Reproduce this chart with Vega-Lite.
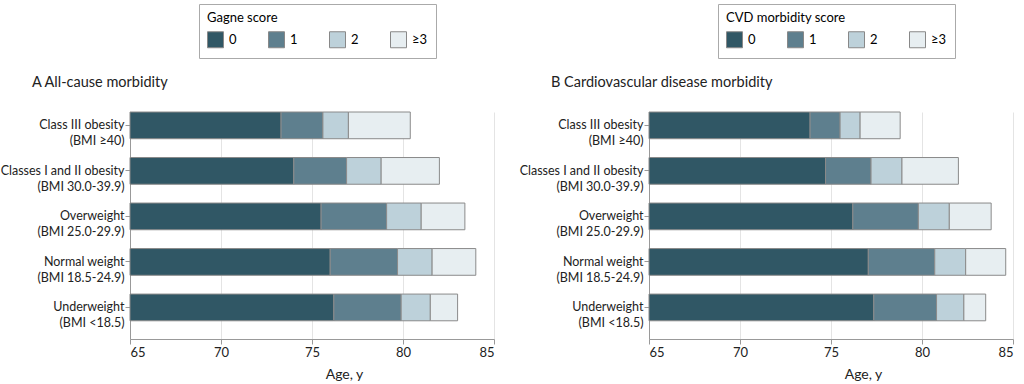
{
  "$schema": "https://vega.github.io/schema/vega-lite/v6.json",
  "padding": {"left": 0, "top": 3, "right": 0, "bottom": 0},
  "config": {
    "font": "Lato",
    "view": {"stroke": null},
    "axis": {"labelColor": "#222", "titleColor": "#222", "domainColor": "#999", "tickColor": "#999"},
    "title": {"color": "#222"}
  },
  "datasets": {
    "allcause": [
      {"bmi": "Class III obesity|(BMI ≥40)", "score": "0", "start": 65, "end": 73.3},
      {"bmi": "Class III obesity|(BMI ≥40)", "score": "1", "start": 73.3, "end": 75.6},
      {"bmi": "Class III obesity|(BMI ≥40)", "score": "2", "start": 75.6, "end": 77.0},
      {"bmi": "Class III obesity|(BMI ≥40)", "score": "≥3", "start": 77.0, "end": 80.4},
      {"bmi": "Classes I and II obesity|(BMI 30.0-39.9)", "score": "0", "start": 65, "end": 74.0},
      {"bmi": "Classes I and II obesity|(BMI 30.0-39.9)", "score": "1", "start": 74.0, "end": 76.9},
      {"bmi": "Classes I and II obesity|(BMI 30.0-39.9)", "score": "2", "start": 76.9, "end": 78.8},
      {"bmi": "Classes I and II obesity|(BMI 30.0-39.9)", "score": "≥3", "start": 78.8, "end": 82.0},
      {"bmi": "Overweight|(BMI 25.0-29.9)", "score": "0", "start": 65, "end": 75.5},
      {"bmi": "Overweight|(BMI 25.0-29.9)", "score": "1", "start": 75.5, "end": 79.1},
      {"bmi": "Overweight|(BMI 25.0-29.9)", "score": "2", "start": 79.1, "end": 81.0},
      {"bmi": "Overweight|(BMI 25.0-29.9)", "score": "≥3", "start": 81.0, "end": 83.4},
      {"bmi": "Normal weight|(BMI 18.5-24.9)", "score": "0", "start": 65, "end": 76.0},
      {"bmi": "Normal weight|(BMI 18.5-24.9)", "score": "1", "start": 76.0, "end": 79.7},
      {"bmi": "Normal weight|(BMI 18.5-24.9)", "score": "2", "start": 79.7, "end": 81.6},
      {"bmi": "Normal weight|(BMI 18.5-24.9)", "score": "≥3", "start": 81.6, "end": 84.0},
      {"bmi": "Underweight|(BMI <18.5)", "score": "0", "start": 65, "end": 76.2},
      {"bmi": "Underweight|(BMI <18.5)", "score": "1", "start": 76.2, "end": 79.9},
      {"bmi": "Underweight|(BMI <18.5)", "score": "2", "start": 79.9, "end": 81.5},
      {"bmi": "Underweight|(BMI <18.5)", "score": "≥3", "start": 81.5, "end": 83.0}
    ],
    "cvd": [
      {"bmi": "Class III obesity|(BMI ≥40)", "score": "0", "start": 65, "end": 73.85},
      {"bmi": "Class III obesity|(BMI ≥40)", "score": "1", "start": 73.85, "end": 75.5},
      {"bmi": "Class III obesity|(BMI ≥40)", "score": "2", "start": 75.5, "end": 76.6},
      {"bmi": "Class III obesity|(BMI ≥40)", "score": "≥3", "start": 76.6, "end": 78.8},
      {"bmi": "Classes I and II obesity|(BMI 30.0-39.9)", "score": "0", "start": 65, "end": 74.7},
      {"bmi": "Classes I and II obesity|(BMI 30.0-39.9)", "score": "1", "start": 74.7, "end": 77.2},
      {"bmi": "Classes I and II obesity|(BMI 30.0-39.9)", "score": "2", "start": 77.2, "end": 78.9},
      {"bmi": "Classes I and II obesity|(BMI 30.0-39.9)", "score": "≥3", "start": 78.9, "end": 82.0},
      {"bmi": "Overweight|(BMI 25.0-29.9)", "score": "0", "start": 65, "end": 76.2},
      {"bmi": "Overweight|(BMI 25.0-29.9)", "score": "1", "start": 76.2, "end": 79.8},
      {"bmi": "Overweight|(BMI 25.0-29.9)", "score": "2", "start": 79.8, "end": 81.5},
      {"bmi": "Overweight|(BMI 25.0-29.9)", "score": "≥3", "start": 81.5, "end": 83.8},
      {"bmi": "Normal weight|(BMI 18.5-24.9)", "score": "0", "start": 65, "end": 77.05},
      {"bmi": "Normal weight|(BMI 18.5-24.9)", "score": "1", "start": 77.05, "end": 80.7},
      {"bmi": "Normal weight|(BMI 18.5-24.9)", "score": "2", "start": 80.7, "end": 82.4},
      {"bmi": "Normal weight|(BMI 18.5-24.9)", "score": "≥3", "start": 82.4, "end": 84.6},
      {"bmi": "Underweight|(BMI <18.5)", "score": "0", "start": 65, "end": 77.35},
      {"bmi": "Underweight|(BMI <18.5)", "score": "1", "start": 77.35, "end": 80.8},
      {"bmi": "Underweight|(BMI <18.5)", "score": "2", "start": 80.8, "end": 82.3},
      {"bmi": "Underweight|(BMI <18.5)", "score": "≥3", "start": 82.3, "end": 83.5}
    ]
  },
  "hconcat": [
    {
      "width": 364,
      "height": 227,
      "data": {"name": "allcause"},
      "title": {"text": "A  All-cause morbidity", "anchor": "start", "frame": "group", "dx": -98, "dy": 91, "fontSize": 14.5, "fontWeight": "normal"},
      "mark": {"type": "bar", "stroke": "#8a8a8a", "strokeWidth": 1},
      "encoding": {
        "y": {
          "field": "bmi", "type": "nominal",
          "sort": ["Class III obesity|(BMI ≥40)", "Classes I and II obesity|(BMI 30.0-39.9)", "Overweight|(BMI 25.0-29.9)", "Normal weight|(BMI 18.5-24.9)", "Underweight|(BMI <18.5)"],
          "scale": {"paddingInner": 0.413, "paddingOuter": 0.2, "align": 0},
          "axis": {"title": null, "labelExpr": "split(datum.label, '|')", "labelFontSize": 12.5, "labelLineHeight": 16, "tickSize": 5, "labelPadding": 1, "grid": false}
        },
        "x": {
          "field": "start", "type": "quantitative",
          "scale": {"domain": [65, 85], "nice": false, "zero": false},
          "axis": {"title": "Age, y", "values": [65, 70, 75, 80, 85], "grid": true, "gridColor": "#e4e4e4", "labelFontSize": 13, "tickSize": 5, "titleFontSize": 14, "titleFontWeight": "normal", "titleX": 214, "titlePadding": 8}
        },
        "x2": {"field": "end"},
        "color": {
          "field": "score", "type": "nominal",
          "scale": {"domain": ["0", "1", "2", "≥3"], "range": ["#305765", "#5e7f8e", "#bdd1da", "#e7eef1"]},
          "legend": {"title": "Gagne score", "orient": "none", "legendX": 69, "legendY": -108, "direction": "horizontal", "columns": 4, "gridAlign": "all", "columnPadding": 21, "symbolType": "square", "symbolSize": 256, "symbolStrokeColor": "#888", "symbolStrokeWidth": 1, "symbolOpacity": 1, "strokeColor": "#aaa", "padding": 8, "titleFontSize": 13, "titleFontWeight": "normal", "titlePadding": 6, "labelFontSize": 13, "labelOffset": 5}
        }
      }
    },
    {
      "width": 364,
      "height": 227,
      "data": {"name": "cvd"},
      "title": {"text": "B  Cardiovascular disease morbidity", "anchor": "start", "frame": "group", "dx": -98, "dy": 91, "fontSize": 14.5, "fontWeight": "normal"},
      "mark": {"type": "bar", "stroke": "#8a8a8a", "strokeWidth": 1},
      "encoding": {
        "y": {
          "field": "bmi", "type": "nominal",
          "sort": ["Class III obesity|(BMI ≥40)", "Classes I and II obesity|(BMI 30.0-39.9)", "Overweight|(BMI 25.0-29.9)", "Normal weight|(BMI 18.5-24.9)", "Underweight|(BMI <18.5)"],
          "scale": {"paddingInner": 0.413, "paddingOuter": 0.2, "align": 0},
          "axis": {"title": null, "labelExpr": "split(datum.label, '|')", "labelFontSize": 12.5, "labelLineHeight": 16, "tickSize": 5, "labelPadding": 1, "grid": false}
        },
        "x": {
          "field": "start", "type": "quantitative",
          "scale": {"domain": [65, 85], "nice": false, "zero": false},
          "axis": {"title": "Age, y", "values": [65, 70, 75, 80, 85], "grid": true, "gridColor": "#e4e4e4", "labelFontSize": 13, "tickSize": 5, "titleFontSize": 14, "titleFontWeight": "normal", "titleX": 214, "titlePadding": 8}
        },
        "x2": {"field": "end"},
        "color": {
          "field": "score", "type": "nominal",
          "scale": {"domain": ["0", "1", "2", "≥3"], "range": ["#305765", "#5e7f8e", "#bdd1da", "#e7eef1"]},
          "legend": {"title": "CVD morbidity score", "orient": "none", "legendX": 69, "legendY": -108, "direction": "horizontal", "columns": 4, "gridAlign": "all", "columnPadding": 21, "symbolType": "square", "symbolSize": 256, "symbolStrokeColor": "#888", "symbolStrokeWidth": 1, "symbolOpacity": 1, "strokeColor": "#aaa", "padding": 8, "titleFontSize": 13, "titleFontWeight": "normal", "titlePadding": 6, "labelFontSize": 13, "labelOffset": 5}
        }
      }
    }
  ],
  "spacing": 24,
  "resolve": {"scale": {"color": "independent"}, "legend": {"color": "independent"}}
}
